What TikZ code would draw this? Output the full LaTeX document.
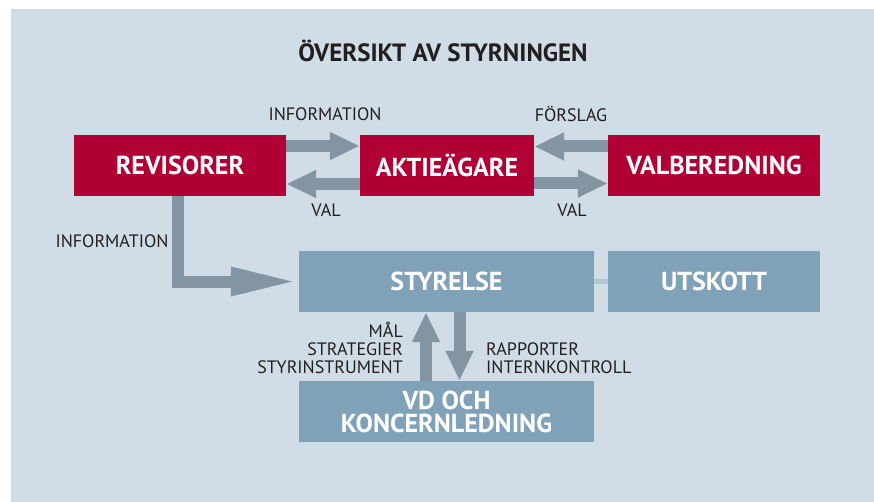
\documentclass[tikz,border=0pt]{standalone}
\usepackage{fontspec}
\setmainfont{PT Sans}
\usetikzlibrary{arrows.meta}
\definecolor{panel}{HTML}{D0DDE7}
\definecolor{redbox}{HTML}{B10034}
\definecolor{bluebox}{HTML}{7FA2B9}
\definecolor{arrowc}{HTML}{8395A3}
\definecolor{linkc}{HTML}{B3C6D4}
\definecolor{txt}{HTML}{231F20}
\tikzset{
  redb/.style={fill=redbox, text=white, minimum height=61pt, inner sep=0pt,
    font=\fontsize{26}{26}\selectfont\bfseries},
  blueb/.style={fill=bluebox, text=white, minimum height=61pt, inner sep=0pt,
    font=\fontsize{26}{26}\selectfont\bfseries},
  lbl/.style={text=txt, inner sep=0pt, font=\fontsize{18}{18}\selectfont},
  fat/.style={draw=arrowc, line width=12pt, line join=miter,
    -{Triangle[width=26pt,length=30pt]}},
  fatlong/.style={draw=arrowc, line width=12pt, line join=miter,
    -{Triangle[width=26pt,length=68pt]}},
}
\begin{document}
\begin{tikzpicture}[x=1pt,y=-1pt]
\useasboundingbox (0,0) rectangle (874,502);
\fill[panel] (11,9) rectangle (874,502);
\node[text=txt, inner sep=0pt, anchor=base, font=\fontsize{25}{25}\selectfont\bfseries] (title) at (443,62) {ÖVERSIKT AV STYRNINGEN};

\node[redb, minimum width=212pt] (rev) at (180,165.5) {REVISORER};
\node[redb, minimum width=174pt] (akt) at (447,165.5) {AKTIEÄGARE};
\node[redb, minimum width=212pt] (val) at (714,165.5) {VALBEREDNING};
\node[blueb, minimum width=295pt] (sty) at (446.5,281.5) {STYRELSE};
\node[blueb, minimum width=212pt] (uts) at (714,281.5) {UTSKOTT};
\node[blueb, minimum width=295pt, align=center, font=\fontsize{26}{23}\selectfont\bfseries] (vd) at (446.5,411.5) {VD OCH\\KONCERNLEDNING};

\draw[linkc, line width=5pt] (sty.east) -- (uts.west);

\draw[fat] ([yshift=19.5pt]rev.east) -- ([yshift=19.5pt]akt.west);
\draw[fat] ([yshift=-18.5pt]akt.west) -- ([yshift=-18.5pt]rev.east);
\draw[fat] ([yshift=19pt]val.west) -- ([yshift=19pt]akt.east);
\draw[fat] ([yshift=-18pt]akt.east) -- ([yshift=-18pt]val.west);
\draw[fatlong] ([xshift=-2pt]rev.south) |- (sty.west);
\draw[fat] ([xshift=-20.5pt]vd.north) -- ([xshift=-20.5pt]sty.south);
\draw[fat] ([xshift=13pt]sty.south) -- ([xshift=13pt]vd.north);

\node[lbl, anchor=base] (l1) at (325,121) {INFORMATION};
\node[lbl, anchor=base] (l2) at (571,122) {FÖRSLAG};
\node[lbl, anchor=base] (l3) at (326,217) {VAL};
\node[lbl, anchor=base] (l4) at (572,217) {VAL};
\node[lbl, anchor=base] (l5) at (112,248) {INFORMATION};
\node[lbl, anchor=base east] (l6) at (403,337) {MÅL};
\node[lbl, anchor=base east] (l7) at (403,355) {STRATEGIER};
\node[lbl, anchor=base east] (l8) at (403,373) {STYRINSTRUMENT};
\node[lbl, anchor=base west] (l9) at (486,355) {RAPPORTER};
\node[lbl, anchor=base west] (l10) at (486,373) {INTERNKONTROLL};
\end{tikzpicture}
\end{document}
